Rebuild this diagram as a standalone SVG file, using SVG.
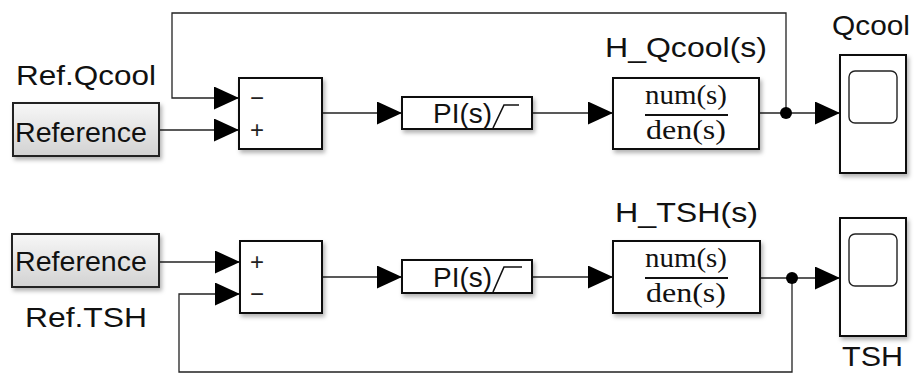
<svg xmlns="http://www.w3.org/2000/svg" width="917" height="374" viewBox="0 0 917 374">
<style>
.blk{fill:#fff;stroke:#111;stroke-width:2}
.ref{fill:url(#gr);stroke:#222;stroke-width:2}
.ln{fill:none;stroke:#222;stroke-width:1.3}
.lbl{font-family:"Liberation Sans",Arial,sans-serif;font-size:28px;fill:#111}
.sgn{font-family:"Liberation Sans",Arial,sans-serif;font-size:24px;fill:#222}
.tf{font-family:"Liberation Serif","Times New Roman",serif;font-size:27px;fill:#111}
.icon{fill:none;stroke:#111;stroke-width:1.6}
</style>
<defs>
<linearGradient id="gr" x1="0" y1="0" x2="0" y2="1">
<stop offset="0" stop-color="#f7f7f7"/>
<stop offset="1" stop-color="#d2d2d2"/>
</linearGradient>
<filter id="sh" x="-10%" y="-10%" width="130%" height="140%">
<feDropShadow dx="2" dy="3" stdDeviation="2" flood-color="#000" flood-opacity="0.3"/>
</filter>
<marker id="ar" markerUnits="userSpaceOnUse" markerWidth="25" markerHeight="24" refX="25" refY="11.5" orient="auto">
<path d="M0,0 L25,11.5 L0,23 z" fill="#000"/>
</marker>
</defs>
<rect width="917" height="374" fill="#fff"/>

<g id="connectors">
<polyline class="ln" points="786,113 786,13 172,13 172,98 239,98" marker-end="url(#ar)"/>
<polyline class="ln" points="159,130 239,130" marker-end="url(#ar)"/>
<polyline class="ln" points="322,113 402,113" marker-end="url(#ar)"/>
<polyline class="ln" points="532,113 613,113" marker-end="url(#ar)"/>
<polyline class="ln" points="759,113 840,113" marker-end="url(#ar)"/>
<circle cx="786" cy="113" r="6" fill="#000"/>
<polyline class="ln" points="159,262 240,262" marker-end="url(#ar)"/>
<polyline class="ln" points="792,278 792,372 179,372 179,294 240,294" marker-end="url(#ar)"/>
<polyline class="ln" points="322,277 402,277" marker-end="url(#ar)"/>
<polyline class="ln" points="532,277 613,277" marker-end="url(#ar)"/>
<polyline class="ln" points="760,278 840,278" marker-end="url(#ar)"/>
<circle cx="792" cy="278" r="6" fill="#000"/>
</g>

<g id="ref_qcool">
<rect class="ref" x="13" y="103" width="146" height="53" filter="url(#sh)"/>
<text class="lbl" x="15" y="142" textLength="132" lengthAdjust="spacingAndGlyphs">Reference</text>
<text class="lbl" x="16" y="85" textLength="140" lengthAdjust="spacingAndGlyphs">Ref.Qcool</text>
</g>

<g id="sum_qcool">
<rect class="blk" x="239" y="78" width="83" height="71" filter="url(#sh)"/>
<text class="sgn" x="250" y="106">−</text>
<text class="sgn" x="250" y="138">+</text>
</g>

<g id="pi_qcool">
<rect class="blk" x="402" y="97" width="130" height="32" filter="url(#sh)"/>
<text class="lbl" x="433" y="123" textLength="59" lengthAdjust="spacingAndGlyphs">PI(s)</text>
<polyline class="icon" points="493,128 504,105 519,105"/>
</g>

<g id="tf_qcool">
<rect class="blk" x="613" y="78" width="146" height="71" filter="url(#sh)"/>
<text class="tf" x="686" y="104" text-anchor="middle" textLength="82" lengthAdjust="spacingAndGlyphs">num(s)</text>
<line x1="645" y1="115" x2="728" y2="115" stroke="#111" stroke-width="2"/>
<text class="tf" x="686" y="139" text-anchor="middle" textLength="80" lengthAdjust="spacingAndGlyphs">den(s)</text>
<text class="lbl" x="605" y="57" textLength="162" lengthAdjust="spacingAndGlyphs">H_Qcool(s)</text>
</g>

<g id="scope_qcool">
<rect class="blk" x="840" y="55" width="66" height="118" filter="url(#sh)"/>
<rect x="849" y="71" width="48" height="52" rx="6" fill="#fff" stroke="#222" stroke-width="1.4"/>
<text class="lbl" x="832" y="35" textLength="78" lengthAdjust="spacingAndGlyphs">Qcool</text>
</g>

<g id="ref_tsh">
<rect class="ref" x="12" y="234" width="147" height="53" filter="url(#sh)"/>
<text class="lbl" x="15" y="271" textLength="132" lengthAdjust="spacingAndGlyphs">Reference</text>
<text class="lbl" x="25" y="327" textLength="122" lengthAdjust="spacingAndGlyphs">Ref.TSH</text>
</g>

<g id="sum_tsh">
<rect class="blk" x="240" y="241" width="82" height="72" filter="url(#sh)"/>
<text class="sgn" x="250" y="270">+</text>
<text class="sgn" x="250" y="302">−</text>
</g>

<g id="pi_tsh">
<rect class="blk" x="402" y="260" width="130" height="33" filter="url(#sh)"/>
<text class="lbl" x="433" y="287" textLength="59" lengthAdjust="spacingAndGlyphs">PI(s)</text>
<polyline class="icon" points="493,292 504,267 522,267"/>
</g>

<g id="tf_tsh">
<rect class="blk" x="613" y="241" width="147" height="72" filter="url(#sh)"/>
<text class="tf" x="686" y="267" text-anchor="middle" textLength="82" lengthAdjust="spacingAndGlyphs">num(s)</text>
<line x1="645" y1="278" x2="728" y2="278" stroke="#111" stroke-width="2"/>
<text class="tf" x="686" y="302" text-anchor="middle" textLength="80" lengthAdjust="spacingAndGlyphs">den(s)</text>
<text class="lbl" x="615" y="222" textLength="143" lengthAdjust="spacingAndGlyphs">H_TSH(s)</text>
</g>

<g id="scope_tsh">
<rect class="blk" x="840" y="218" width="66" height="118" filter="url(#sh)"/>
<rect x="849" y="234" width="48" height="52" rx="6" fill="#fff" stroke="#222" stroke-width="1.4"/>
<text class="lbl" x="842" y="366" textLength="61" lengthAdjust="spacingAndGlyphs">TSH</text>
</g>
</svg>
